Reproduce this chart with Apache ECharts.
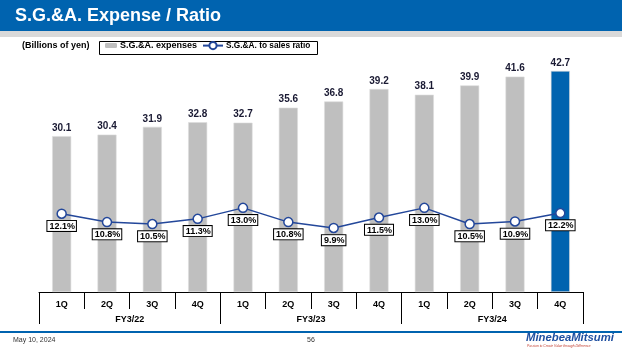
<!DOCTYPE html>
<html>
<head>
<meta charset="utf-8">
<script src="https://cdn.jsdelivr.net/npm/echarts@6/dist/echarts.min.js"></script>
<style>
  html, body { margin: 0; padding: 0; background: #fff; }
  #chart { width: 622px; height: 350px; }
</style>
</head>
<body>
<div id="chart"></div>
<script>
  var quarters = ['1Q', '2Q', '3Q', '4Q', '1Q', '2Q', '3Q', '4Q', '1Q', '2Q', '3Q', '4Q'];
  var years = ['FY3/22', 'FY3/23', 'FY3/24'];
  var expenses = [30.1, 30.4, 31.9, 32.8, 32.7, 35.6, 36.8, 39.2, 38.1, 39.9, 41.6, 42.7];
  var ratio = [12.1, 10.8, 10.5, 11.3, 13.0, 10.8, 9.9, 11.5, 13.0, 10.5, 10.9, 12.2];

  var font = '"Liberation Sans", Arial, sans-serif';
  var blue = '#0063AF';
  var gray = '#bfbfbf';
  var lineBlue = '#23479a';

  var myChart = echarts.init(document.getElementById('chart'));
  myChart.setOption({
    animation: false,
    textStyle: { fontFamily: font },
    grid: { left: 39, right: 39, top: 59, bottom: 58 },
    legend: [{
      left: 103, top: 39, padding: 2,
      itemWidth: 12, itemHeight: 5,
      data: [{ name: 'S.G.&A. expenses', itemStyle: { color: gray, borderWidth: 0 } }],
      textStyle: { fontSize: 9, fontWeight: 'bold', color: '#000', padding: [0, 0, 0, -2] }
    }, {
      left: 200, top: 39, padding: 2,
      itemWidth: 20, itemHeight: 9,
      data: ['S.G.&A. to sales ratio'],
      textStyle: { fontSize: 8.3, fontWeight: 'bold', color: '#000', padding: [0, 0, 0, -2] }
    }],
    graphic: [
      { type: 'rect', left: 0, top: 0, shape: { width: 622, height: 31 }, style: { fill: blue } },
      { type: 'rect', left: 0, top: 31, shape: { width: 622, height: 6 }, style: { fill: '#d9d9d9' } },
      { type: 'text', left: 15, top: 7, style: { text: 'S.G.&A. Expense / Ratio', fill: '#fff', font: 'bold 18px ' + font } },
      { type: 'text', left: 22, top: 41, style: { text: '(Billions of yen)', fill: '#000', font: 'bold 9px ' + font } },
      { type: 'rect', left: 97, top: 39, shape: { width: 218, height: 13 }, style: { fill: 'none', stroke: '#000', lineWidth: 1 } },
      { type: 'rect', left: 0, top: 331, shape: { width: 622, height: 2 }, style: { fill: blue } },
      { type: 'text', left: 13, top: 337, style: { text: 'May 10, 2024', fill: '#333', font: '7px ' + font } },
      { type: 'text', left: 307, top: 337, style: { text: '56', fill: '#333', font: '7px ' + font } },
      { type: 'text', left: 526, top: 332, style: { text: 'MinebeaMitsumi', fill: '#1f4fa0', font: 'italic bold 11.3px ' + font } },
      { type: 'text', left: 527, top: 345, style: { text: 'Passion to Create Value through Difference', fill: '#c0392b', font: 'italic 3.3px ' + font } }
    ],
    xAxis: [{
      type: 'category',
      data: quarters,
      axisLine: { show: true, lineStyle: { color: '#000', width: 1 } },
      axisTick: { show: true, interval: 0, length: 17, lineStyle: { color: '#000', width: 1 } },
      axisLabel: { margin: 8, fontSize: 9, fontWeight: 'bold', color: '#000' }
    }, {
      type: 'category',
      position: 'bottom',
      data: years,
      axisLine: { show: false },
      axisTick: { show: true, interval: 0, length: 32, lineStyle: { color: '#000', width: 1 } },
      axisLabel: { margin: 23, fontSize: 9, fontWeight: 'bold', color: '#000' }
    }],
    yAxis: [{
      type: 'value', min: 0, max: 45, show: false, splitLine: { show: false }
    }, {
      type: 'value', min: 0, max: 36, show: false, splitLine: { show: false }
    }],
    series: [{
      name: 'S.G.&A. expenses',
      type: 'bar',
      barWidth: 19,
      data: expenses,
      itemStyle: {
        color: function (p) { return p.dataIndex === expenses.length - 1 ? blue : gray; },
        borderColor: '#dcdcdc', borderWidth: 0.6
      },
      label: {
        show: true, position: 'top', distance: 3,
        fontSize: 10, fontWeight: 'bold', color: '#1a1a33',
        formatter: function (p) { return p.value.toFixed(1); }
      }
    }, {
      name: 'S.G.&A. to sales ratio',
      type: 'line',
      yAxisIndex: 1,
      data: ratio,
      symbol: 'circle',
      symbolSize: 9,
      lineStyle: { color: lineBlue, width: 1.5 },
      itemStyle: { color: '#fff', borderColor: lineBlue, borderWidth: 1.5 },
      label: {
        show: true, position: 'bottom', distance: 2,
        fontSize: 9, fontWeight: 'bold', color: '#000',
        backgroundColor: '#fff', borderColor: '#000', borderWidth: 1,
        padding: [1, 1, 0, 2],
        formatter: function (p) { return p.value.toFixed(1) + '%'; }
      }
    }]
  });
</script>
</body>
</html>
